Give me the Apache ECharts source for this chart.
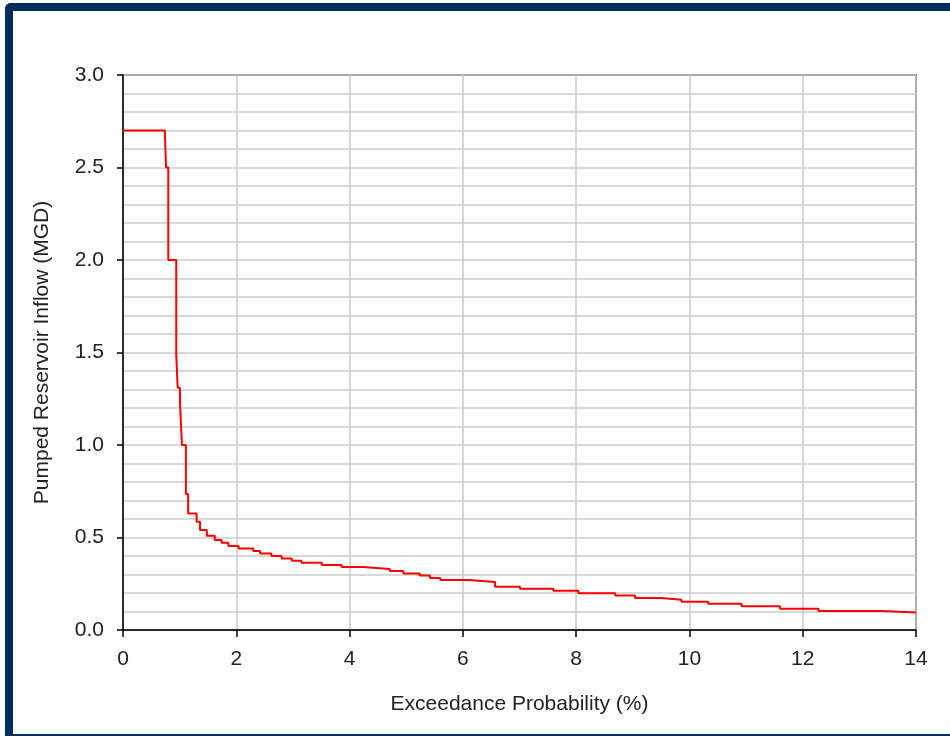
<!DOCTYPE html>
<html>
<head>
<meta charset="utf-8">
<script src="https://cdn.jsdelivr.net/npm/echarts@6/dist/echarts.min.js"></script>
<style>
  html, body { margin: 0; padding: 0; background: #fff; }
  #frame { position: absolute; left: 5px; top: 3px; width: 960px; height: 733px;
           box-sizing: border-box; border-left: 8px solid #002d5e; border-top: 8px solid #002d5e;
           border-bottom: 2px solid #002d5e; border-top-left-radius: 6px; }
  #chart { position: absolute; left: 0; top: 0; width: 950px; height: 736px; }
</style>
</head>
<body>
<div id="frame"></div>
<div id="chart"></div>
<script>
// Exceedance probability (%) breakpoints and pumped reservoir inflow (MGD) held from each breakpoint
const exceedance = [0, 0.74, 0.76, 0.80, 0.94, 0.965, 1.006, 1.04, 1.11, 1.15, 1.30, 1.36, 1.48, 1.62, 1.74, 1.86, 2.04, 2.30, 2.42, 2.62, 2.80, 2.98, 3.15, 3.51, 3.86, 4.24, 4.71, 4.95, 5.24, 5.42, 5.60, 6.10, 6.57, 7.01, 7.60, 8.04, 8.69, 9.04, 9.50, 9.86, 10.33, 10.92, 11.60, 12.28, 13.39, 14];
const inflow = [2.70, 2.68, 2.50, 2.00, 1.49, 1.31, 1.23, 1.00, 0.735, 0.63, 0.585, 0.54, 0.51, 0.487, 0.472, 0.454, 0.44, 0.427, 0.414, 0.40, 0.387, 0.375, 0.364, 0.351, 0.34, 0.33, 0.319, 0.306, 0.294, 0.281, 0.27, 0.26, 0.234, 0.223, 0.212, 0.198, 0.186, 0.173, 0.164, 0.153, 0.142, 0.128, 0.115, 0.103, 0.094, 0.094];
const xTicks = [0, 2, 4, 6, 8, 10, 12, 14];
const yTicks = [0.0, 0.5, 1.0, 1.5, 2.0, 2.5, 3.0];
const xTitle = 'Exceedance Probability (%)';
const yTitle = 'Pumped Reservoir Inflow (MGD)';

const chart = echarts.init(document.getElementById('chart'), null, { renderer: 'canvas' });
const font = 'Liberation Sans, Arial, sans-serif';
const fs = 21;
chart.setOption({
  animation: false,
  grid: { left: 123, right: 34, top: 75, bottom: 106, show: true, borderColor: '#000', borderWidth: 1.5, backgroundColor: 'transparent' },
  xAxis: {
    type: 'value', min: xTicks[0], max: xTicks[xTicks.length - 1], interval: 2,
    name: xTitle, nameLocation: 'middle', nameGap: 64,
    nameTextStyle: { fontFamily: font, fontSize: fs, color: '#222' },
    axisLine: { show: true, onZero: false, lineStyle: { color: '#000', width: 1.5 } },
    axisTick: { show: true, inside: false, length: 7, lineStyle: { color: '#000', width: 1.5 } },
    axisLabel: { fontFamily: font, fontSize: fs, color: '#222', margin: 19 },
    splitLine: { show: true, lineStyle: { color: '#cccccc', width: 1.6 } }
  },
  yAxis: {
    type: 'value', min: yTicks[0], max: yTicks[yTicks.length - 1], interval: 0.5,
    name: yTitle, nameLocation: 'middle', nameGap: 70,
    nameTextStyle: { fontFamily: font, fontSize: fs, color: '#222' },
    axisLine: { show: true, lineStyle: { color: '#000', width: 1.5 } },
    axisTick: { show: true, inside: false, length: 6, lineStyle: { color: '#000', width: 1.5 } },
    axisLabel: { fontFamily: font, fontSize: fs, color: '#222', margin: 19, formatter: v => v.toFixed(1) },
    splitLine: { show: true, lineStyle: { color: '#cccccc', width: 1.6 } },
    minorTick: { show: false, splitNumber: 5 },
    minorSplitLine: { show: true, lineStyle: { color: '#cccccc', width: 1.6 } }
  },
  series: [{
    type: 'line', step: 'end', showSymbol: false,
    lineStyle: { color: '#ff0000', width: 2 },
    data: exceedance.map((x, i) => [x, inflow[i]])
  }]
});
</script>
</body>
</html>
